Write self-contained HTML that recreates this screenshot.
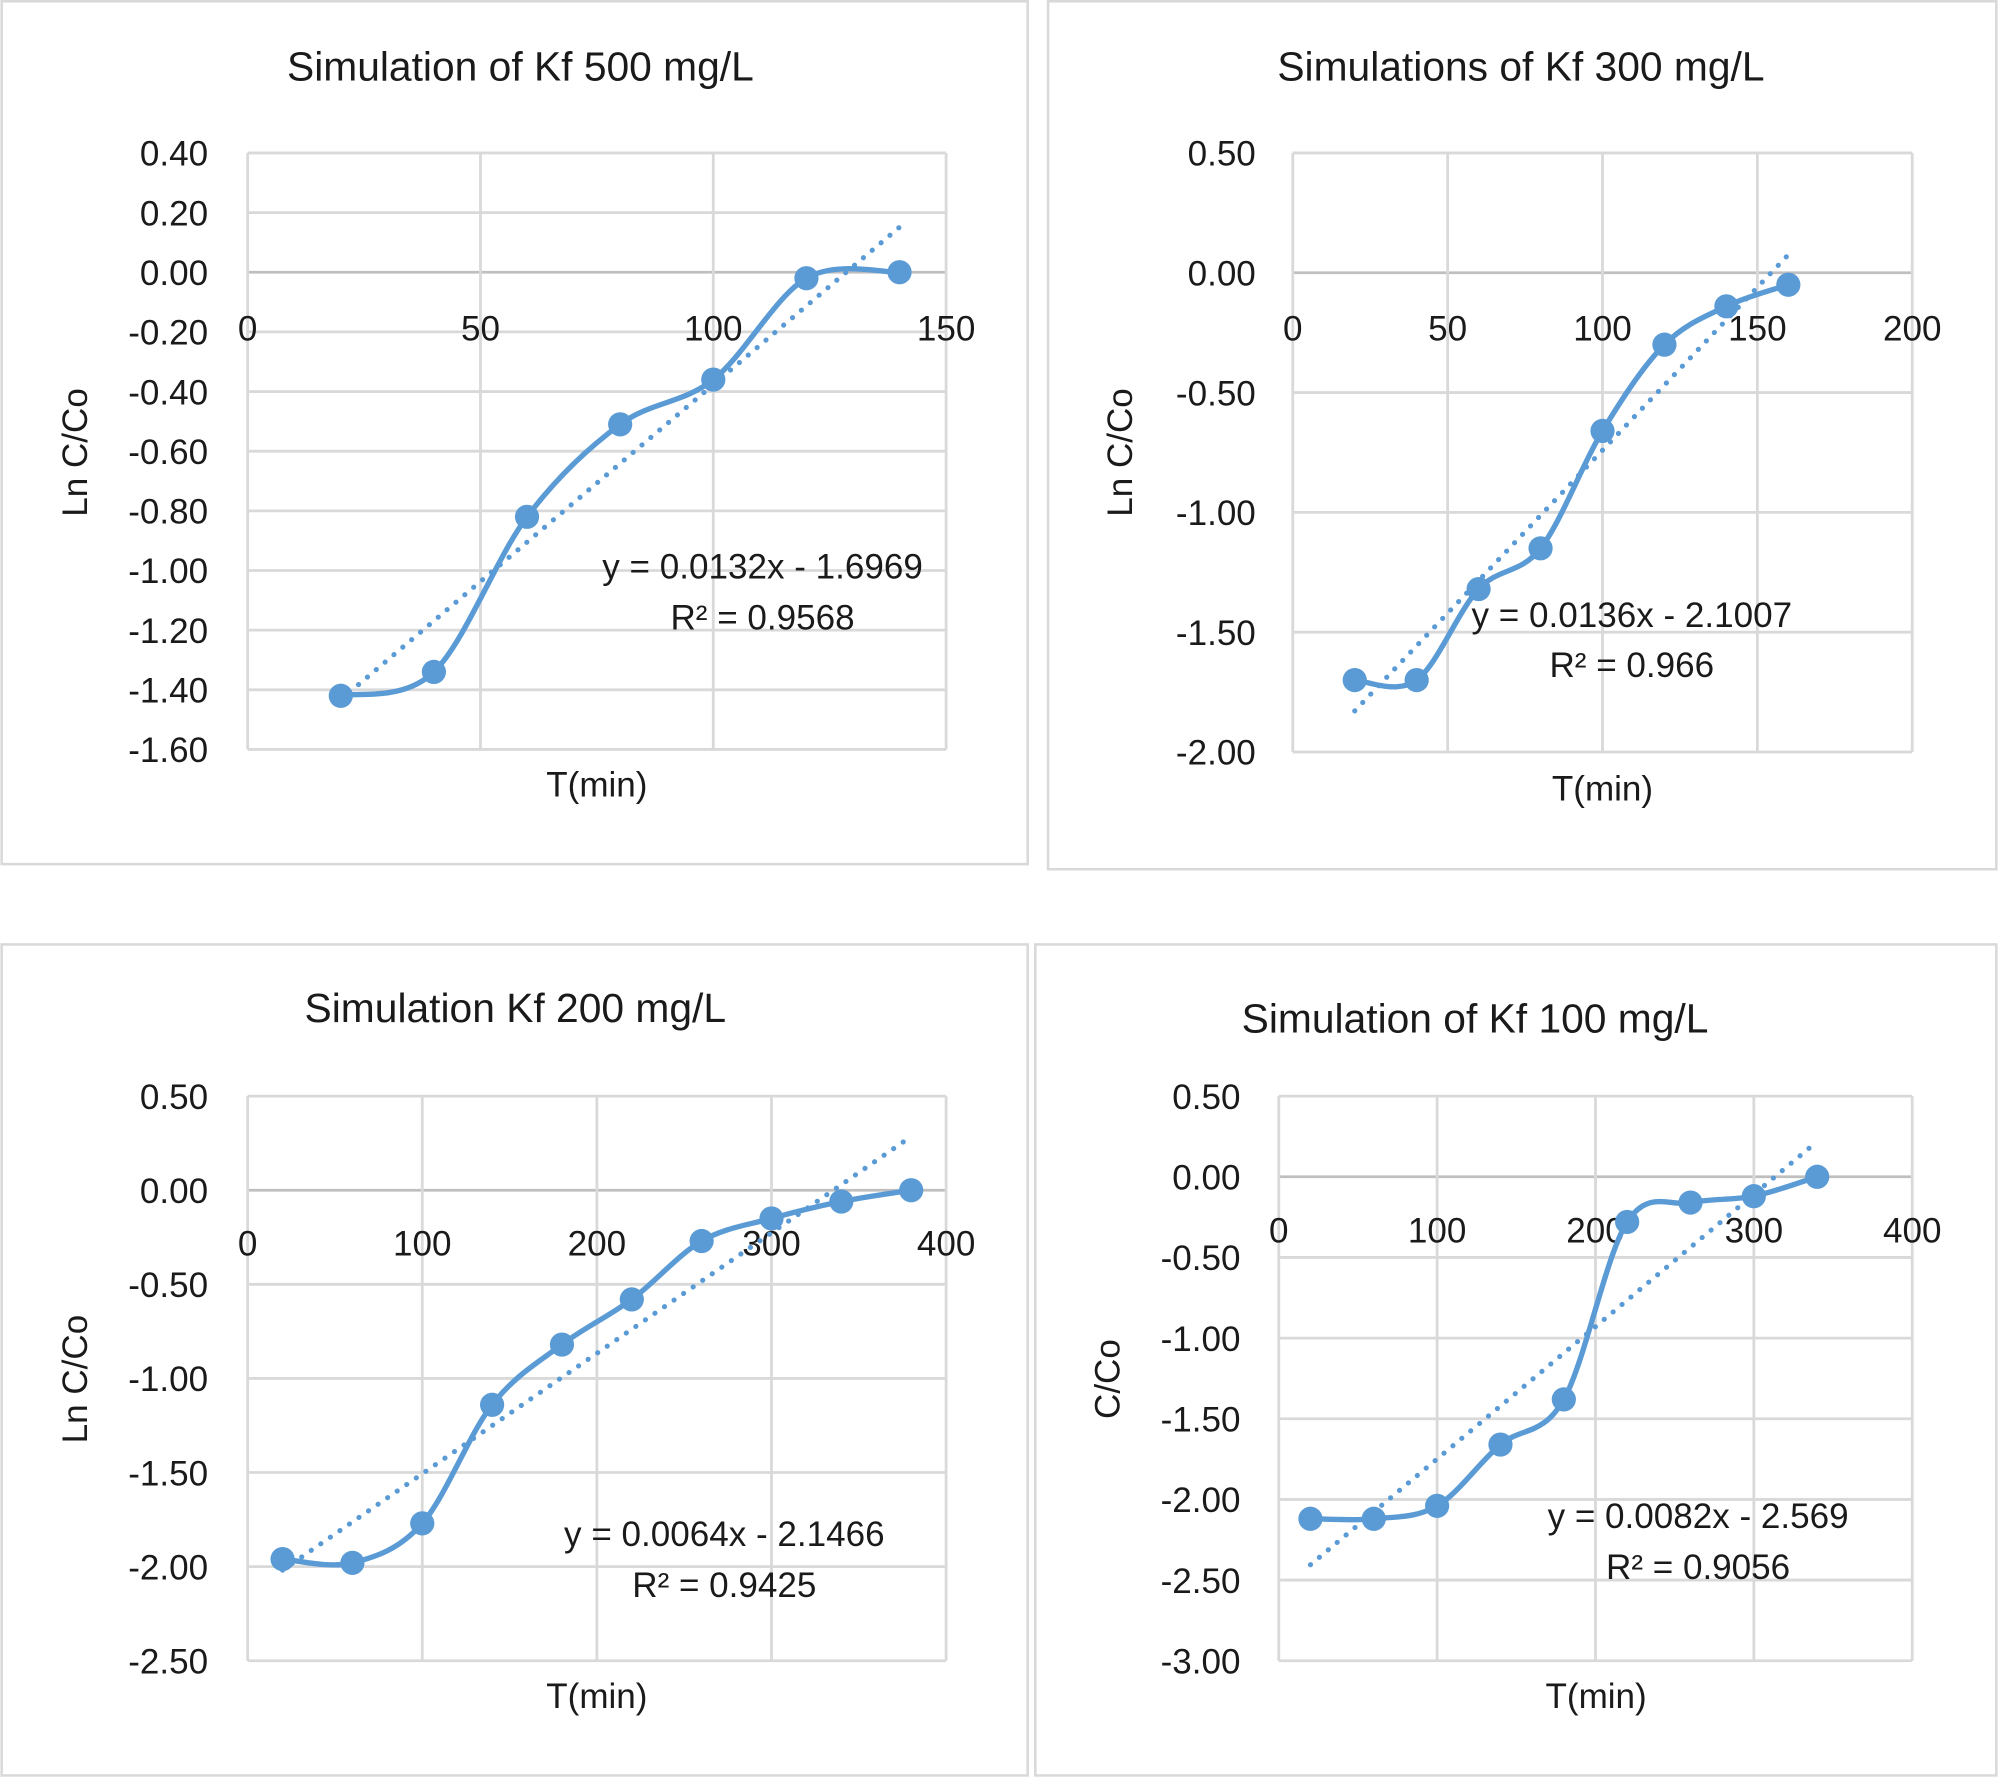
<!DOCTYPE html>
<html><head><meta charset="utf-8"><style>
html,body{margin:0;padding:0;background:#fff}
svg{display:block}
text{font-family:"Liberation Sans",sans-serif;fill:#1a1a1a}
</style></head><body>
<svg id="s" width="1998" height="1778" viewBox="0 0 1567 1395" xmlns="http://www.w3.org/2000/svg">
<rect x="0" y="0" width="1567" height="1395" fill="#fff"/>
</svg>
<script>
var NS="http://www.w3.org/2000/svg",S=document.getElementById('s');
function el(t,a,txt){var e=document.createElementNS(NS,t);for(var k in a)e.setAttribute(k,a[k]);if(txt!==undefined)e.textContent=txt;S.appendChild(e);return e;}
var FS=27.5,TS=32;
var charts=[
{panel:[1,1,806,678],title:"Simulation of Kf 500 mg/L",tx:408,ty:63,px:[194,742],py:[120,588],ymax:0.4,ymin:-1.6,ystep:0.2,xmax:150,xstep:50,xly:267,ylx:163,
 ytitle:"Ln C/Co",ytx:68,yty:355,xt:[468,625],
 xs:[20,40,60,80,100,120,140],ys:[-1.42,-1.34,-0.82,-0.51,-0.36,-0.02,0.00],m:0.0132,b:-1.6969,eq:["y = 0.0132x - 1.6969","R² = 0.9568"],eqx:598,eqy:[454,494]},
{panel:[822,1,1566,682],title:"Simulations of Kf 300 mg/L",tx:1193,ty:63,px:[1014,1500],py:[120,590],ymax:0.5,ymin:-2.0,ystep:0.5,xmax:200,xstep:50,xly:267,ylx:985,
 ytitle:"Ln C/Co",ytx:888,yty:355,xt:[1257,628],
 xs:[20,40,60,80,100,120,140,160],ys:[-1.70,-1.70,-1.32,-1.15,-0.66,-0.30,-0.14,-0.05],m:0.0136,b:-2.1007,eq:["y = 0.0136x - 2.1007","R² = 0.966"],eqx:1280,eqy:[492,531]},
{panel:[1,741,806,1393],title:"Simulation Kf 200 mg/L",tx:404,ty:802,px:[194,742],py:[860,1303],ymax:0.5,ymin:-2.5,ystep:0.5,xmax:400,xstep:100,xly:985,ylx:163,
 ytitle:"Ln C/Co",ytx:68,yty:1082,xt:[468,1340],
 xs:[20,60,100,140,180,220,260,300,340,380],ys:[-1.96,-1.98,-1.77,-1.14,-0.82,-0.58,-0.27,-0.15,-0.06,0.00],m:0.0064,b:-2.1466,eq:["y = 0.0064x - 2.1466","R² = 0.9425"],eqx:568,eqy:[1213,1253]},
{panel:[812,741,1566,1393],title:"Simulation of Kf 100 mg/L",tx:1157,ty:810,px:[1003,1500],py:[860,1303],ymax:0.5,ymin:-3.0,ystep:0.5,xmax:400,xstep:100,xly:975,ylx:973,
 ytitle:"C/Co",ytx:878,yty:1082,xt:[1252,1340],
 xs:[20,60,100,140,180,220,260,300,340],ys:[-2.12,-2.12,-2.04,-1.66,-1.38,-0.28,-0.16,-0.12,0.00],m:0.0082,b:-2.569,eq:["y = 0.0082x - 2.569","R² = 0.9056"],eqx:1332,eqy:[1199,1239]}
];
charts.forEach(function(c){
 var p=c.panel;
 el('rect',{x:p[0],y:p[1],width:p[2]-p[0],height:p[3]-p[1],fill:'#fff',stroke:'#d9d9d9','stroke-width':2});
 el('text',{x:c.tx,y:c.ty,'font-size':TS,'text-anchor':'middle'},c.title);
 function X(v){return c.px[0]+(c.px[1]-c.px[0])*v/c.xmax;}
 function Y(v){return c.py[0]+(c.py[1]-c.py[0])*(c.ymax-v)/(c.ymax-c.ymin);}
 var n=Math.round((c.ymax-c.ymin)/c.ystep);
 for(var i=0;i<=n;i++){var v=c.ymax-i*c.ystep,y=Y(v);
  el('line',{x1:c.px[0],x2:c.px[1],y1:y,y2:y,stroke:(Math.abs(v)<1e-9?'#bfbfbf':'#d9d9d9'),'stroke-width':2.2});
  el('text',{x:c.ylx,y:y+10,'font-size':FS,'text-anchor':'end'},v.toFixed(2).replace('-0.00','0.00'));}
 for(var v=0;v<=c.xmax;v+=c.xstep){var x=X(v);
  el('line',{x1:x,x2:x,y1:c.py[0],y2:c.py[1],stroke:'#d9d9d9','stroke-width':2.2});
  el('text',{x:x,y:c.xly,'font-size':FS,'text-anchor':'middle'},String(v));}
 el('text',{x:c.xt[0],y:c.xt[1],'font-size':FS,'text-anchor':'middle'},"T(min)");
 el('text',{x:c.ytx,y:c.yty,'font-size':FS,'text-anchor':'middle',transform:'rotate(-90 '+c.ytx+' '+c.yty+')'},c.ytitle);
 var x0=c.xs[0],x1=c.xs[c.xs.length-1];
 el('line',{x1:X(x0),y1:Y(c.m*x0+c.b),x2:X(x1),y2:Y(c.m*x1+c.b),stroke:'#5B9BD5','stroke-width':4,'stroke-dasharray':'0.1 9','stroke-linecap':'round'});
 var P=c.xs.map(function(x,i){return [X(x),Y(c.ys[i])];});
 var d='M'+P[0][0]+' '+P[0][1];
 for(var i=0;i<P.length-1;i++){var a=P[Math.max(i-1,0)],b0=P[i],b1=P[i+1],e=P[Math.min(i+2,P.length-1)];
  var c1=[b0[0]+(b1[0]-a[0])/6,b0[1]+(b1[1]-a[1])/6],c2=[b1[0]-(e[0]-b0[0])/6,b1[1]-(e[1]-b0[1])/6];
  d+=' C'+c1[0]+' '+c1[1]+' '+c2[0]+' '+c2[1]+' '+b1[0]+' '+b1[1];}
 el('path',{d:d,fill:'none',stroke:'#5B9BD5','stroke-width':4.2});
 P.forEach(function(q){el('circle',{cx:q[0],cy:q[1],r:9.5,fill:'#5B9BD5'});});
 el('text',{x:c.eqx,y:c.eqy[0],'font-size':FS,'text-anchor':'middle'},c.eq[0]);
 el('text',{x:c.eqx,y:c.eqy[1],'font-size':FS,'text-anchor':'middle'},c.eq[1]);
});
</script>
</body></html>
